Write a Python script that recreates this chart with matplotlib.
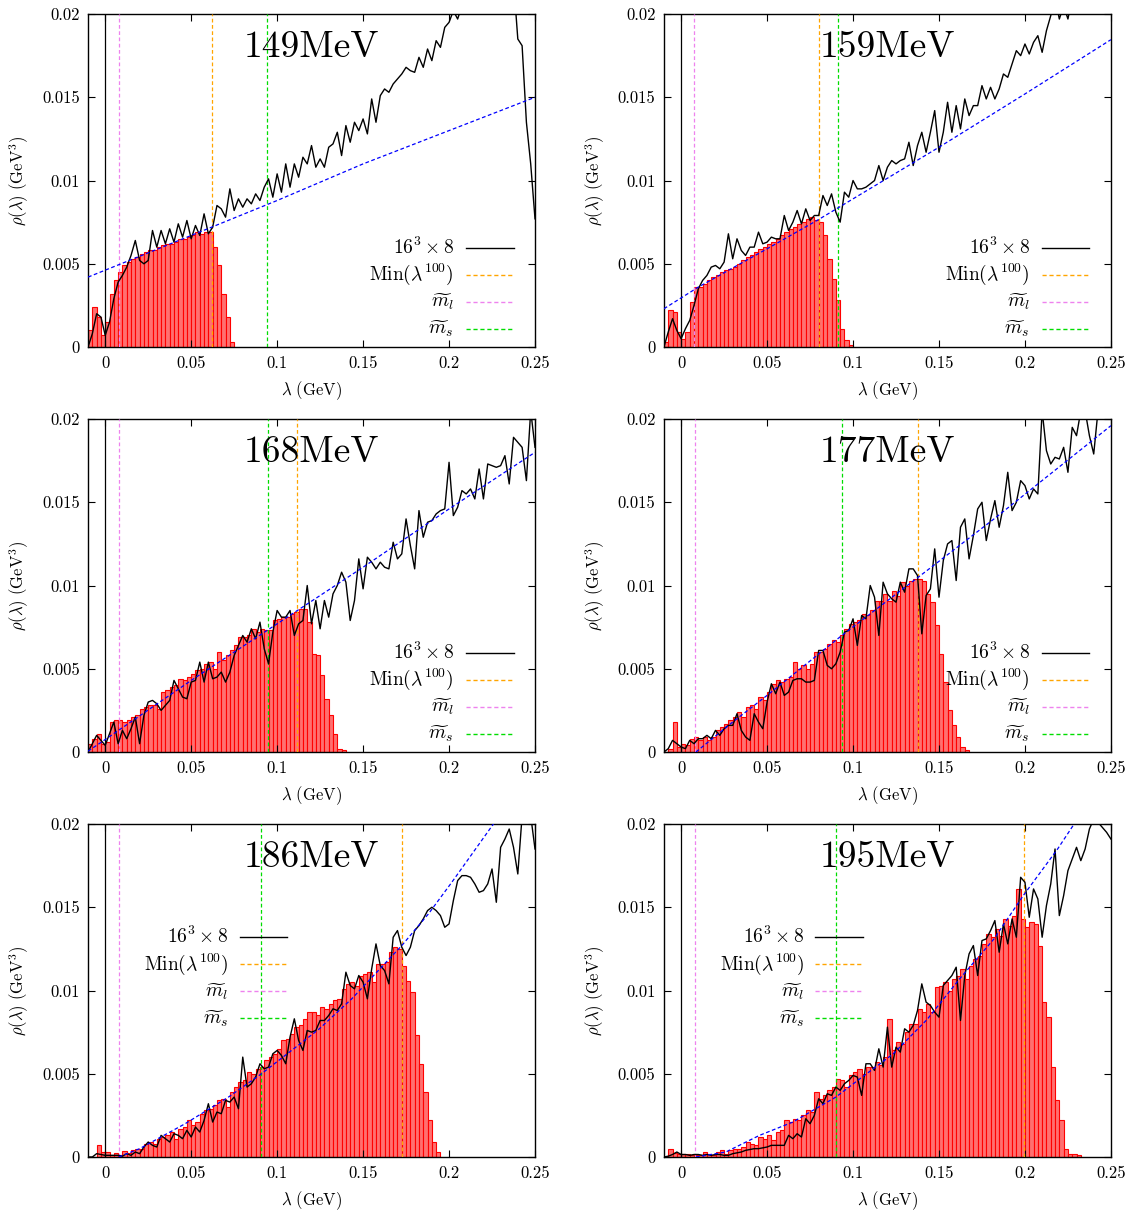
import numpy as np
import matplotlib
matplotlib.use("Agg")
import matplotlib.pyplot as plt

plt.rcParams['font.family'] = 'serif'
plt.rcParams['font.serif'] = ['cmr10']
plt.rcParams['mathtext.fontset'] = 'cm'
plt.rcParams['axes.formatter.use_mathtext'] = True

# all densities in units of 1e-3 GeV^3
temps = ['149MeV', '159MeV', '168MeV', '177MeV', '186MeV', '195MeV']

# histogram heights, bins of 0.0025 starting at -0.01
hist_149 = [1.0, 2.4, 1.8, 0.7, 1.5, 3.2, 4.0, 4.5, 4.9, 5.1, 5.3, 5.4, 5.6, 5.7, 5.8, 5.8, 6.0,
            6.1, 6.2, 6.2, 6.3, 6.5, 6.5, 6.6, 6.7, 6.9, 6.8, 6.9, 6.9, 6.0, 4.9, 3.2, 1.8, 0.3]
hist_159 = [0.3, 2.2, 2.1, 0.9, 0.5, 0.9, 2.7, 3.6, 3.6, 3.8, 4.0, 4.2, 4.3, 4.5, 4.6, 4.7, 4.8,
            5.0, 5.2, 5.4, 5.5, 5.7, 5.9, 6.0, 6.2, 6.3, 6.5, 6.7, 6.9, 7.1, 7.2, 7.4, 7.5, 7.7,
            7.8, 7.6, 7.5, 6.7, 5.3, 4.1, 2.8, 1.1, 0.4, 0.15]
hist_168 = [0.5, 0.8, 1.1, 0.5, 0.6, 1.8, 1.9, 1.9, 1.8, 1.9,
            2.1, 2.2, 2.6, 2.7, 2.8, 2.8, 2.6, 3.6, 3.7, 3.9,
            4.0, 4.4, 4.3, 4.5, 4.7, 4.9, 5.0, 5.3, 5.4, 5.0,
            6.0, 5.5, 5.8, 6.1, 6.4, 6.9, 6.9, 7.0, 7.4, 7.2,
            7.4, 7.3, 7.3, 7.9, 8.0, 8.1, 8.1, 8.3, 8.4, 8.6,
            8.6, 7.8, 5.9, 5.8, 4.6, 3.2, 2.2, 1.1, 0.2, 0.1]
hist_177 = [0.0, 0.2, 1.8, 0.3, 0.5, 0.4, 0.8, 0.9, 0.7, 0.9, 0.7, 0.9, 1.3, 1.5, 1.7, 1.9,
            2.1, 2.4, 2.1, 2.7, 2.8, 2.6, 3.3, 3.1, 3.6, 4.1, 4.3, 4.2, 4.4, 4.5, 5.4, 5.0,
            5.2, 5.0, 5.3, 6.0, 6.0, 6.2, 6.5, 6.7, 6.6, 7.0, 7.4, 7.7, 7.8, 7.9, 8.3, 8.2,
            8.5, 9.1, 9.1, 9.5, 9.1, 9.7, 9.4, 10.2, 10.0, 10.3, 10.4, 10.4, 10.3, 9.5, 9.0,
            7.6, 5.9, 4.2, 2.5, 1.6, 0.9, 0.3, 0.1]
hist_186 = [0.0, 0.0, 0.7, 0.3, 0.3, 0.15, 0.26, 0.1, 0.36, 0.26, 0.4, 0.5, 0.5, 0.8, 0.9,
            0.8, 1.1, 1.2, 1.3, 1.5, 1.1, 1.7, 1.8, 2.2, 1.9, 2.1, 2.6, 2.8, 2.9, 3.1, 3.4,
            3.5, 3.0, 3.9, 4.2, 4.5, 4.6, 5.1, 5.0, 5.3, 5.4, 5.8, 6.0, 6.2, 6.5, 7.0, 7.1,
            7.4, 7.8, 7.9, 8.3, 8.7, 8.7, 8.5, 9.0, 8.9, 9.2, 9.4, 9.5, 10.1, 10.4, 10.5,
            10.3, 10.9, 11.0, 11.1, 10.5, 11.6, 11.6, 11.7, 12.3, 12.6, 12.5, 11.5, 10.6,
            9.9, 7.3, 5.6, 3.9, 2.2, 0.9, 0.3]
hist_195 = [0.0, 0.5, 0.26, 0.2, 0.18, 0.2, 0.15, 0.12, 0.15, 0.3, 0.2, 0.15, 0.3, 0.4, 0.2,
            0.4, 0.5, 0.5, 0.6, 0.9, 0.8, 0.7, 1.2, 1.1, 1.3, 1.0, 1.5, 1.6, 2.2, 2.1, 2.3,
            2.2, 2.5, 2.8, 2.7, 3.9, 3.5, 3.7, 4.0, 4.2, 4.7, 4.6, 4.2, 4.9, 5.1, 5.3, 5.0,
            5.4, 5.4, 5.7, 5.5, 6.0, 8.3, 6.4, 6.9, 6.8, 7.5, 8.0, 8.0, 8.9, 8.7, 9.2, 8.7,
            10.2, 10.3, 10.5, 10.0, 10.7, 10.9, 11.3, 10.7, 11.5, 11.9, 12.1, 12.8, 13.4,
            13.2, 13.7, 13.3, 14.3, 13.9, 14.5, 16.1, 14.3, 13.8, 14.1, 14.0, 12.7, 9.3,
            8.4, 5.4, 3.4, 2.2, 0.5, 0.2, 0.2, 0.1]

# 16^3 x 8 curve, sampled every 0.0025 GeV from -0.01 to 0.25
line_149 = [0.0, 0.8, 2.0, 1.8, 0.7, 1.5, 2.9, 3.9, 4.3, 4.8,
            5.5, 6.4, 5.2, 5.0, 5.2, 7.0, 6.0, 7.0, 6.2, 7.1,
            6.3, 7.4, 6.6, 7.6, 6.5, 7.3, 6.7, 8.0, 6.8, 7.2,
            8.5, 8.3, 7.8, 9.5, 8.2, 8.9, 8.4, 8.9, 8.6, 9.2,
            8.8, 9.6, 10.1, 9.0, 10.4, 9.3, 11.0, 9.6, 11.0, 10.2,
            11.4, 11.0, 12.1, 10.8, 11.3, 10.8, 12.0, 12.2, 12.9, 11.5,
            13.3, 12.3, 13.5, 13.0, 13.7, 12.8, 14.9, 13.5, 15.1, 15.5,
            15.3, 15.8, 16.1, 16.4, 16.8, 16.6, 16.5, 17.4, 16.8, 17.9,
            17.2, 18.4, 18.0, 19.2, 19.5, 20.2, 19.7, 20.5, 21.0, 21.5,
            22.0, 22.5, 23.0, 23.5, 24.0, 24.0, 24.0, 24.0, 23.0, 22.0,
            18.5, 18.1, 13.5, 11.0, 7.7]
line_159 = [0.0, 0.9, 1.7, 1.0, 0.5, 1.1, 1.6, 2.5, 3.5, 4.0,
            4.3, 4.8, 4.9, 4.7, 5.1, 6.8, 5.3, 6.5, 5.8, 5.5,
            6.0, 6.0, 6.9, 6.2, 6.3, 6.6, 6.5, 6.5, 7.9, 7.0,
            7.5, 8.2, 7.4, 8.3, 7.6, 7.9, 7.9, 9.1, 8.5, 9.2,
            8.1, 7.5, 9.3, 9.0, 10.0, 9.5, 9.5, 9.6, 9.8, 10.0,
            10.9, 10.0, 10.8, 11.2, 11.0, 11.2, 11.3, 12.3, 10.9, 12.1,
            12.9, 11.7, 12.9, 14.2, 11.7, 12.9, 14.7, 12.9, 14.5, 13.1,
            14.9, 13.9, 14.5, 14.5, 15.7, 14.9, 15.6, 14.9, 15.5, 16.4,
            16.2, 17.0, 17.8, 17.5, 18.2, 17.6, 18.3, 18.7, 17.7, 19.0,
            19.9, 21.0, 19.7, 20.5, 19.7, 21.0, 21.5, 22.0, 22.5, 23.0,
            23.5, 24.0, 24.5, 25.0, 25.5]
line_168 = [0.0, 0.5, 1.0, 0.7, 0.4, 1.1, 1.8, 0.5, 1.3, 0.8,
            1.4, 2.1, 0.5, 2.2, 3.0, 3.1, 2.9, 2.5, 2.8, 3.1,
            4.3, 3.8, 3.3, 3.2, 4.2, 4.3, 5.4, 4.2, 5.4, 4.4,
            4.5, 4.8, 4.2, 4.8, 5.8, 6.4, 7.0, 6.6, 7.4, 6.8,
            7.8, 6.2, 5.3, 7.2, 8.5, 8.1, 8.1, 8.5, 7.0, 7.7,
            7.9, 10.0, 7.7, 9.1, 7.4, 9.1, 8.1, 9.5, 10.0, 10.8,
            10.2, 7.9, 9.1, 11.6, 9.8, 11.7, 11.4, 11.0, 11.4, 11.1,
            11.0, 12.6, 11.6, 11.9, 14.0, 12.4, 11.0, 14.5, 12.9, 13.8,
            13.9, 14.3, 14.5, 14.6, 17.4, 14.2, 14.7, 15.7, 15.5, 15.8,
            15.2, 17.0, 15.2, 17.3, 17.2, 17.1, 17.2, 17.8, 16.1, 18.9,
            18.6, 18.3, 16.3, 20.5, 18.3]
line_177 = [0.0, 0.2, 0.7, 0.5, 0.3, 0.2, 0.7, 0.5, 0.8, 0.8,
            1.0, 0.8, 1.3, 1.0, 1.4, 1.6, 1.6, 2.3, 1.3, 0.9,
            0.7, 2.3, 1.8, 1.4, 3.0, 4.1, 3.5, 4.2, 3.4, 3.6,
            4.3, 4.4, 4.4, 4.2, 4.2, 4.3, 6.1, 6.1, 5.2, 5.0,
            5.3, 6.0, 7.2, 7.3, 8.0, 6.4, 8.2, 8.0, 10.0, 9.3,
            7.0, 10.2, 9.5, 9.2, 9.0, 10.2, 9.6, 11.0, 11.0, 10.6,
            7.1, 9.4, 9.8, 12.2, 9.3, 11.5, 12.5, 12.7, 10.3, 13.5,
            14.0, 11.6, 13.0, 14.6, 15.0, 12.7, 14.0, 15.1, 13.5, 14.8,
            16.8, 14.5, 15.0, 16.3, 16.0, 15.2, 15.8, 15.5, 20.5, 18.1,
            17.3, 17.7, 17.6, 18.3, 16.8, 19.5, 19.0, 20.5, 20.5, 19.0,
            17.9, 20.5, 21.0, 21.5, 22.0]
line_186 = [0.0, 0.0, 0.2, 0.15, 0.1, 0.1, 0.1, 0.1, 0.05, 0.2,
            0.1, 0.3, 0.2, 0.6, 0.9, 0.7, 0.6, 1.3, 1.1, 0.9,
            1.4, 1.3, 1.1, 1.6, 1.2, 1.8, 1.5, 2.2, 3.2, 2.1,
            2.7, 2.6, 3.4, 3.3, 3.6, 2.9, 6.0, 4.2, 4.4, 4.8,
            5.6, 5.3, 5.4, 6.2, 6.4, 6.1, 5.6, 7.2, 8.3, 7.0,
            6.4, 7.6, 7.5, 7.6, 8.2, 8.2, 8.5, 8.9, 8.8, 9.2,
            11.1, 10.3, 10.1, 10.9, 10.5, 9.5, 11.3, 12.8, 11.5, 11.2,
            10.4, 13.2, 13.6, 12.6, 12.1, 12.6, 13.6, 13.9, 14.3, 14.8,
            15.0, 14.8, 14.5, 13.8, 14.0, 15.4, 16.6, 16.9, 16.9, 16.8,
            16.4, 15.9, 16.0, 16.4, 17.3, 15.3, 18.6, 19.1, 19.7, 18.6,
            17.0, 20.5, 21.0, 20.5, 18.5]
line_195 = [0.0, 0.05, 0.15, 0.3, 0.15, 0.15, 0.1, 0.15, 0.15, 0.1,
            0.15, 0.1, 0.15, 0.15, 0.1, 0.1, 0.2, 0.25, 0.3, 0.4,
            0.45, 0.5, 0.5, 0.55, 0.6, 0.7, 0.7, 0.7, 0.7, 1.3,
            1.1, 1.4, 1.2, 2.3, 2.0, 2.5, 3.5, 3.2, 3.8, 3.7,
            4.2, 4.0, 4.4, 4.6, 4.9, 4.8, 3.7, 5.6, 5.6, 5.2,
            6.5, 5.4, 7.8, 5.4, 6.6, 6.3, 7.7, 7.5, 7.9, 8.8,
            10.4, 9.3, 9.1, 8.7, 8.4, 10.3, 10.6, 10.9, 11.4, 8.2,
            10.9, 12.2, 12.7, 10.9, 13.0, 13.1, 13.6, 14.2, 12.3, 14.0,
            12.8, 14.3, 13.2, 16.8, 16.5, 14.4, 16.1, 15.5, 13.2, 15.1,
            16.4, 18.5, 14.5, 15.7, 17.2, 17.9, 18.6, 17.8, 18.5, 19.7,
            20.3, 20.1, 19.8, 19.5, 19.1]

# fitted curves, points
fit_x_149 = [-0.01, 0.05, 0.1, 0.15, 0.2, 0.25]
fit_y_149 = [4.2, 6.7, 8.8, 11.0, 13.0, 15.0]
fit_x_159 = [-0.01, 0.01, 0.05, 0.08, 0.1, 0.15, 0.2, 0.25]
fit_y_159 = [2.3, 3.6, 5.9, 7.66, 8.9, 12.0, 15.2, 18.46]
fit_x_168 = [-0.01, 0.0, 0.05, 0.1, 0.15, 0.2, 0.25]
fit_y_168 = [0.05, 0.75, 4.3, 7.7, 11.1, 14.6, 18.0]
fit_x_177 = [0.0086, 0.03, 0.05, 0.0935, 0.143, 0.182, 0.25]
fit_y_177 = [0.0, 1.8, 3.4, 7.0, 10.9, 14.0, 19.6]
fit_x_186 = [0.0078, 0.02, 0.0465, 0.0717, 0.0909, 0.124, 0.1434, 0.1725, 0.188, 0.2016, 0.2258, 0.23]
fit_y_186 = [0.0, 0.5, 2.0, 3.6, 5.0, 7.65, 9.5, 12.7, 14.6, 16.5, 20.0, 20.6]
fit_x_195 = [0.0086, 0.026, 0.0456, 0.065, 0.09, 0.104, 0.1234, 0.143, 0.162, 0.182, 0.199, 0.219, 0.2286, 0.235]
fit_y_195 = [0.0, 0.3, 1.3, 2.1, 3.6, 4.7, 6.2, 8.25, 10.7, 13.1, 15.7, 18.5, 20.0, 21.0]

# vertical markers (GeV)
m_l = [0.0083, 0.0077, 0.0078, 0.0082, 0.0078, 0.0078]
m_s = [0.0942, 0.0912, 0.0948, 0.0935, 0.0909, 0.0901]
min_l100 = [0.0622, 0.0801, 0.1116, 0.1377, 0.1729, 0.1994]

hists = [hist_149, hist_159, hist_168, hist_177, hist_186, hist_195]
lines = [line_149, line_159, line_168, line_177, line_186, line_195]
fits = [(fit_x_149, fit_y_149), (fit_x_159, fit_y_159), (fit_x_168, fit_y_168),
        (fit_x_177, fit_y_177), (fit_x_186, fit_y_186), (fit_x_195, fit_y_195)]

legend_labels = [r'$16^3\times 8$', r'$\mathrm{Min}(\lambda^{100})$',
                 r'$\widetilde{m}_l$', r'$\widetilde{m}_s$']
c_orange = '#ffa500'
c_violet = '#ee82ee'
c_green = '#00dd00'
dash = (0, (3, 2))

fig = plt.figure(figsize=(11.33, 12.10), dpi=100)
lefts = [0.0777, 0.586]
bottoms = [0.7132, 0.3785, 0.0438]
W, H = 0.3945, 0.2752

bw = 0.0025
lam = -0.01 + bw * np.arange(105)

for p in range(6):
    row, col = p // 2, p % 2
    ax = fig.add_axes([lefts[col], bottoms[row], W, H])
    h = np.array(hists[p]) * 1e-3
    centers = -0.01 + bw / 2 + bw * np.arange(len(h))
    ax.bar(centers, h, width=bw, color='#ff7070', edgecolor='#ff0000', linewidth=0.8, zorder=1)
    ax.axvline(0.0, color='black', lw=0.9, zorder=2)
    ax.axvline(min_l100[p], color=c_orange, lw=0.9, ls=dash, zorder=3)
    ax.axvline(m_l[p], color=c_violet, lw=0.9, ls=dash, zorder=3)
    ax.axvline(m_s[p], color=c_green, lw=0.9, ls=dash, zorder=3)
    ax.plot(lam, np.array(lines[p]) * 1e-3, color='black', lw=1.0, zorder=4)
    fx, fy = fits[p]
    ax.plot(fx, np.array(fy) * 1e-3, color='#0000ff', lw=0.9, ls=dash, zorder=5)

    ax.set_xlim(-0.01, 0.25)
    ax.set_ylim(0, 0.02)
    ax.set_xticks([0, 0.05, 0.1, 0.15, 0.2, 0.25])
    ax.set_xticklabels(['0', '0.05', '0.1', '0.15', '0.2', '0.25'])
    ax.set_yticks([0, 0.005, 0.01, 0.015, 0.02])
    ax.set_yticklabels(['0', '0.005', '0.01', '0.015', '0.02'])
    ax.tick_params(direction='in', length=5, width=0.8, top=True, right=True,
                   labelsize=12, pad=6)
    for s in ax.spines.values():
        s.set_linewidth(1.0)
    ax.set_xlabel(r'$\lambda\ \mathrm{(GeV)}$', fontsize=12, labelpad=6)
    ax.set_ylabel(r'$\rho(\lambda)\ \mathrm{(GeV^3)}$', fontsize=12, labelpad=8)

    ax.text(0.5, 0.9, temps[p], transform=ax.transAxes, ha='center', va='center',
            fontsize=27, zorder=6)

    # legend, text right-aligned to the left of each sample line
    if p < 4:
        tx, x0, x1 = 0.819, 0.845, 0.952
        ys = [0.298, 0.217, 0.136, 0.055]
    else:
        tx, x0, x1 = 0.314, 0.339, 0.446
        ys = [0.662, 0.580, 0.498, 0.416]
    styles = [('black', '-'), (c_orange, dash), (c_violet, dash), (c_green, dash)]
    for lab, (c, ls), y in zip(legend_labels, styles, ys):
        ax.plot([x0, x1], [y, y], transform=ax.transAxes, color=c, ls=ls, lw=1.0, zorder=6)
        ax.text(tx, y, lab, transform=ax.transAxes, ha='right', va='center', fontsize=14, zorder=6)

fig.savefig('out.png', dpi=100)
